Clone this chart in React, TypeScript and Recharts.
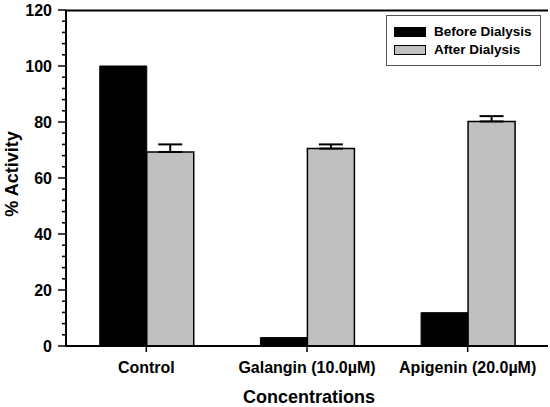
import React from "react";
import { BarChart, Bar, XAxis, YAxis, ErrorBar } from "recharts";

const categories = ["Control", "Galangin (10.0µM)", "Apigenin (20.0µM)"];
const beforeDialysis = [100, 3, 11.9];
const afterDialysis = [69.3, 70.5, 80.2];
const afterError = [2.7, 1.5, 1.9];
const yTicks = [0, 4, 8, 12, 16, 20, 24, 28, 32, 36, 40, 44, 48, 52, 56, 60, 64, 68, 72, 76, 80, 84, 88, 92, 96, 100, 104, 108, 112, 116, 120];
const legendItems = [
  { label: "Before Dialysis", fill: "#000" },
  { label: "After Dialysis", fill: "#c0c0c0" },
];

const data = categories.map((name, i) => ({
  name,
  before: beforeDialysis[i],
  after: afterDialysis[i],
  afterErr: [0, afterError[i]],
}));

const FONT = '"Liberation Sans", Arial, sans-serif';
const CHART_W = 550;
const MARGIN = { top: 10, right: 2, left: 0, bottom: 0 };
const Y_W = 66;
const PLOT_W = CHART_W - MARGIN.left - MARGIN.right - Y_W;
const Y_MAX = 120;

const YTick = (props: any) => {
  const { x, y, payload } = props;
  const major = payload.value % 20 === 0;
  const axisX = x + 6 + 8;
  return (
    <g>
      {payload.value === Y_MAX && (
        <path d={`M${axisX},${y + 0.5} H${axisX + PLOT_W}`} stroke="#000" strokeWidth={2} fill="none" />
      )}
      <line x1={axisX - (major ? 8 : 4)} x2={axisX} y1={y} y2={y} stroke="#000" strokeWidth={1.5} />
      {major && (
        <text x={x} y={y} dy="0.355em" textAnchor="end" fontFamily={FONT} fontWeight="bold" fontSize={16} fill="#000">
          {payload.value}
        </text>
      )}
    </g>
  );
};

const LegendBox = () => (
  <div style={{ position: "absolute", top: 15, left: 386, border: "1.5px solid #555", background: "#fff", width: 155, height: 51, boxSizing: "border-box", paddingTop: 7, paddingLeft: 7, fontFamily: FONT, fontWeight: "bold", fontSize: 13.5 }}>
    {legendItems.map((it) => (
      <div key={it.label} style={{ display: "flex", alignItems: "center", height: 18 }}>
        <div style={{ width: 32, height: 10, background: it.fill, border: "1.5px solid #000", boxSizing: "border-box" }} />
        <span style={{ marginLeft: 8, lineHeight: "18px" }}>{it.label}</span>
      </div>
    ))}
  </div>
);

export default function App() {
  return (
    <div style={{ position: "absolute", left: 0, top: 0, width: 550, height: 407, background: "#fff" }}>
      <BarChart width={CHART_W} height={407} data={data} margin={MARGIN} barGap={0} barCategoryGap="21%">
        <XAxis
          dataKey="name"
          height={61}
          axisLine={{ stroke: "#000", strokeWidth: 2 }}
          tickLine={{ stroke: "#000", strokeWidth: 1.5 }}
          tickSize={6}
          tickMargin={10}
          tick={{ fill: "#000", fontFamily: FONT, fontWeight: "bold", fontSize: 16 }}
          label={{
            content: (p: any) => {
              const vb = p.viewBox;
              return (
                <text x={vb.x + vb.width / 2 + 2} y={403} textAnchor="middle" fontFamily={FONT} fontWeight="bold" fontSize={18} fill="#000">
                  Concentrations
                </text>
              );
            },
          }}
        />
        <YAxis
          width={Y_W}
          domain={[0, Y_MAX]}
          ticks={yTicks}
          interval={0}
          tickSize={8}
          tickMargin={6}
          tickLine={false}
          axisLine={{ stroke: "#000", strokeWidth: 2 }}
          tick={<YTick />}
          label={{
            content: (p: any) => {
              const vb = p.viewBox;
              const cy = vb.y + vb.height / 2 - 4;
              return (
                <text x={18} y={cy} transform={`rotate(-90, 18, ${cy})`} textAnchor="middle" fontFamily={FONT} fontWeight="bold" fontSize={18} fill="#000">
                  % Activity
                </text>
              );
            },
          }}
        />
        <YAxis yAxisId="right" orientation="right" width={0} domain={[0, Y_MAX]} tick={false} tickLine={false} axisLine={{ stroke: "#000", strokeWidth: 2 }} />
        <Bar dataKey="before" name="Before Dialysis" fill="#000" stroke="#000" strokeWidth={1} isAnimationActive={false} />
        <Bar dataKey="after" name="After Dialysis" fill="#c0c0c0" stroke="#000" strokeWidth={1.5} isAnimationActive={false}>
          <ErrorBar dataKey="afterErr" width={12} stroke="#000" strokeWidth={2} direction="y" />
        </Bar>
      </BarChart>
      <LegendBox />
    </div>
  );
}
